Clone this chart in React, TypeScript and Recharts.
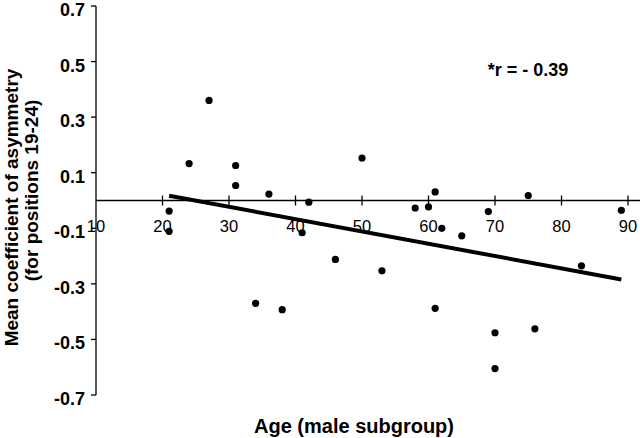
import React from 'react';
import { ScatterChart, Scatter, XAxis, YAxis, ReferenceLine, ReferenceDot, Customized } from 'recharts';

const ages = [21, 21, 24, 27, 31, 31, 34, 36, 38, 41, 42, 46, 50, 53, 58, 60, 61, 61, 62, 65, 69, 70, 70, 75, 76, 83, 89];
const asym = [-0.038, -0.111, 0.133, 0.36, 0.126, 0.054, -0.37, 0.023, -0.393, -0.116, -0.006, -0.212, 0.153, -0.253, -0.027, -0.023, 0.031, -0.388, -0.1, -0.127, -0.04, -0.476, -0.605, 0.018, -0.462, -0.235, -0.035];
const trendX = [21, 89];
const trendY = [0.017, -0.284];
const xTicks = [10, 20, 30, 40, 50, 60, 70, 80, 90];
const yTicks = [0.7, 0.5, 0.3, 0.1, -0.1, -0.3, -0.5, -0.7];
const xAxisEnd = 91.8;
const xLabel = 'Age (male subgroup)';
const yLabel1 = 'Mean coefficient of asymmetry';
const yLabel2 = '(for positions 19-24)';
const rText = '*r = - 0.39';

const points = ages.map((a, i) => ({ x: a, y: asym[i] }));
const FONT = '"Liberation Sans", Arial, Helvetica, sans-serif';

const Dot = (props: any) => <circle cx={props.cx} cy={props.cy} r={3.6} fill="#000" />;

const XTick = (t: number) => (props: any) => (
  <g>
    <line x1={props.cx} y1={props.cy - 5} x2={props.cx} y2={props.cy + 5} stroke="#000" strokeWidth={1.3} />
    <text x={props.cx} y={props.cy + 31} textAnchor="middle" fontFamily={FONT} fontSize={16.5} fill="#000">{t}</text>
  </g>
);

const YTick = (props: any) => (
  <text x={props.x} y={props.y + 10} textAnchor="end" fontFamily={FONT} fontSize={18} fontWeight="bold" fill="#000">
    {Number(props.payload.value).toFixed(1)}
  </text>
);

const YLabel = (props: any) => {
  const vb = props.viewBox;
  const cy = vb.y + vb.height / 2;
  const c1 = cy + 7;
  const c2 = cy - 10;
  return (
    <g>
      <text x={18} y={c1} transform={`rotate(-90, 18, ${c1})`} textAnchor="middle" fontFamily={FONT} fontSize={19} fontWeight="bold" fill="#000">{yLabel1}</text>
      <text x={38} y={c2} transform={`rotate(-90, 38, ${c2})`} textAnchor="middle" fontFamily={FONT} fontSize={19} fontWeight="bold" fill="#000">{yLabel2}</text>
    </g>
  );
};

const XLabel = (props: any) => {
  const vb = props.viewBox;
  return (
    <text x={vb.x + vb.width / 2 - 8} y={vb.y + 38} textAnchor="middle" fontFamily={FONT} fontSize={20} fontWeight="bold" fill="#000">{xLabel}</text>
  );
};

export default function App() {
  return (
    <div style={{ position: 'absolute', left: 0, top: 0, background: '#fff' }}>
      <ScatterChart width={640} height={438} margin={{ top: 6, right: 12, bottom: 0, left: 0 }}>
        <XAxis type="number" dataKey="x" domain={[10, 90]} ticks={xTicks} height={43} axisLine={false} tickLine={false} tick={false} label={{ content: XLabel }} />
        <YAxis type="number" dataKey="y" domain={[-0.7, 0.7]} ticks={yTicks} width={96} interval={0}
          tick={YTick}
          tickSize={5} tickMargin={6}
          axisLine={{ stroke: '#000', strokeWidth: 1.3 }} tickLine={{ stroke: '#000', strokeWidth: 1.3 }}
          label={{ content: YLabel }} />
        <ReferenceLine segment={[{ x: 10, y: 0 }, { x: xAxisEnd, y: 0 }]} stroke="#000" strokeWidth={1.3} ifOverflow="visible" />
        {xTicks.filter((t) => t !== 10).map((t) => (
          <ReferenceDot key={t} x={t} y={0} r={0} ifOverflow="visible" shape={XTick(t)} />
        ))}
        <ReferenceDot x={10} y={0} r={0} ifOverflow="visible" shape={(p: any) => (
          <text x={p.cx} y={p.cy + 31} textAnchor="middle" fontFamily={FONT} fontSize={16.5} fill="#000">{10}</text>
        )} />
        <ReferenceLine segment={[{ x: trendX[0], y: trendY[0] }, { x: trendX[1], y: trendY[1] }]} stroke="#000" strokeWidth={4} />
        <Scatter data={points} shape={Dot} isAnimationActive={false} />
        <Customized component={() => (
          <text x={528} y={76} textAnchor="middle" fontFamily={FONT} fontSize={18} fontWeight="bold" fill="#000">{rText}</text>
        )} />
      </ScatterChart>
    </div>
  );
}
